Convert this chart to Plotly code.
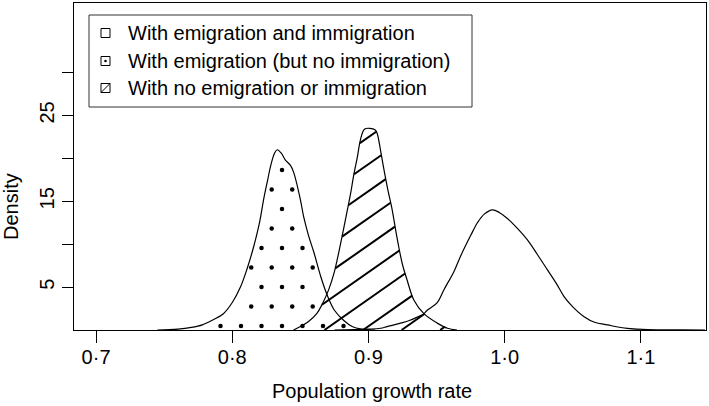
import numpy as np
import plotly.graph_objects as go

# density curves (growth rate -> density)
both_x = [0.875, 0.890, 0.900, 0.9088, 0.9137, 0.9235, 0.9300, 0.9358, 0.9407, 0.9431, 0.9505, 0.9554,
          0.9627, 0.9676, 0.975, 0.980, 0.985, 0.991, 0.996, 1.002, 1.009, 1.0167, 1.024, 1.0314,
          1.0380, 1.0436, 1.050, 1.0583, 1.066, 1.0755, 1.083, 1.090, 1.105, 1.130, 1.147]
both_y = [0.0, 0.05, 0.1, 0.2, 0.4, 0.8, 1.1, 1.5, 1.9, 2.3, 3.2, 4.7,
          6.8, 8.6, 11.0, 12.5, 13.5, 14.0, 13.7, 13.0, 11.9, 10.5, 8.8, 7.0,
          5.4, 3.9, 2.7, 1.55, 0.9, 0.6, 0.35, 0.2, 0.05, 0.02, 0.0]

emig_x = [0.745, 0.760, 0.770, 0.778, 0.786, 0.7935, 0.800, 0.806, 0.811, 0.8157, 0.820, 0.823,
          0.826, 0.828, 0.831, 0.833, 0.836, 0.839, 0.8426, 0.845, 0.850, 0.8524, 0.856, 0.860,
          0.865, 0.8696, 0.875, 0.8819, 0.888, 0.895, 0.905]
emig_y = [0.0, 0.1, 0.3, 0.6, 1.2, 1.9, 3.2, 5.0, 7.2, 9.7, 12.5, 15.2,
          17.5, 19.0, 20.6, 21.0, 20.6, 19.8, 19.2, 18.4, 15.2, 13.2, 11.0, 9.0,
          6.2, 4.1, 2.3, 1.1, 0.4, 0.1, 0.0]

none_x = [0.845, 0.850, 0.856, 0.862, 0.866, 0.8708, 0.875, 0.878, 0.881, 0.884, 0.887, 0.889,
          0.892, 0.894, 0.897, 0.901, 0.905, 0.9064, 0.909, 0.911, 0.914, 0.9174, 0.920, 0.9222,
          0.925, 0.9284, 0.9333, 0.9407, 0.9505, 0.958, 0.965]
none_y = [0.0, 0.4, 1.0, 1.9, 3.0, 4.7, 6.8, 8.9, 11.2, 13.6, 16.0, 17.9,
          20.3, 22.1, 23.4, 23.5, 23.3, 22.9, 20.8, 19.0, 16.5, 14.0, 11.6, 9.7,
          7.6, 5.8, 3.5, 1.9, 0.8, 0.2, 0.0]

labels = ['With emigration and immigration',
          'With emigration (but no immigration)',
          'With no emigration or immigration']

xticks = [0.7, 0.8, 0.9, 1.0, 1.1]
xticklabels = ['0·7', '0·8', '0·9', '1·0', '1·1']
yticks = [5, 10, 15, 20, 25, 30]
yticklabels = ['5', '', '15', '', '25', '']

W, H = 709, 406
ml, mr, mt, mb = 74, 3, 3, 76
pw, ph = W - ml - mr, H - mt - mb
xr = [0.6838, 1.1478]
yr = [0, 38.1]
FONT = 'Liberation Sans, Arial, sans-serif'


def to_x(p):
    # pixels from plot left -> data x
    return xr[0] + np.asarray(p) / pw * (xr[1] - xr[0])


def to_y(p):
    # pixels up from plot bottom -> data y
    return np.asarray(p) / ph * yr[1]


fig = go.Figure()

fig.add_trace(go.Scatter(x=both_x, y=both_y, mode='lines', line=dict(color='black', width=1.2, shape='spline'),
                         showlegend=False))
fig.add_trace(go.Scatter(x=emig_x, y=emig_y, mode='lines', line=dict(color='black', width=1.2, shape='spline'),
                         showlegend=False))

# dot shading: staggered lattice in pixel space, kept inside the curve
dx, dy = [], []
for r in range(-5, 20):
    for c in range(-5, 40):
        ppx = c * 20.5 + (r % 2) * 10.2 + 3
        ppy = r * 19.5 + 4
        gx = to_x(ppx)
        gy = to_y(ppy)
        top = np.interp(gx, emig_x, emig_y, left=0, right=0)
        if gy > to_y(2.5) and gy < top - to_y(4):
            dx.append(float(gx))
            dy.append(float(gy))
fig.add_trace(go.Scatter(x=dx, y=dy, mode='markers', marker=dict(color='black', size=4.5, line=dict(width=0)),
                         showlegend=False))

# hatching for the closed population, computed in pixel space so the angle is right
slope = 0.7
gap = 27.0
pxs = np.linspace(0, pw, 4000)
gxs = to_x(pxs)
fy = np.interp(gxs, none_x, none_y, left=0, right=0)
hx, hy = [], []
c0 = -slope * (363 - ml)
for k in range(-25, 25):
    c = c0 + k * gap
    ly = to_y(slope * pxs + c)
    inside = (ly >= 0) & (ly <= fy) & (fy > 0)
    if inside.sum() < 2:
        continue
    idx = np.where(inside)[0]
    hx += [float(gxs[idx[0]]), float(gxs[idx[-1]]), None]
    hy += [float(ly[idx[0]]), float(ly[idx[-1]]), None]
fig.add_trace(go.Scatter(x=hx, y=hy, mode='lines', line=dict(color='black', width=2), showlegend=False))

fig.add_trace(go.Scatter(x=none_x, y=none_y, mode='lines', line=dict(color='black', width=1.2, shape='spline'),
                         showlegend=False))


# legend drawn by hand in pixel positions
def xp(p):
    return (p - ml) / pw


def yp(p):
    return (H - mb - p) / ph


fig.add_shape(type='rect', xref='paper', yref='paper', x0=xp(89), x1=xp(472), y0=yp(107), y1=yp(15),
              line=dict(color='#333', width=1), fillcolor='white')
rows = [33, 61, 88]
for i, (lab, ry) in enumerate(zip(labels, rows)):
    fig.add_shape(type='rect', xref='paper', yref='paper', x0=xp(101), x1=xp(110),
                  y0=yp(ry + 4.5), y1=yp(ry - 4.5), line=dict(color='black', width=1), fillcolor='white')
    if i == 1:
        fig.add_shape(type='circle', xref='paper', yref='paper', x0=xp(104.2), x1=xp(106.8),
                      y0=yp(ry + 1.3), y1=yp(ry - 1.3), line=dict(color='black', width=0), fillcolor='black')
    if i == 2:
        fig.add_shape(type='line', xref='paper', yref='paper', x0=xp(101), x1=xp(110),
                      y0=yp(ry + 4.5), y1=yp(ry - 4.5), line=dict(color='black', width=1))
    fig.add_annotation(x=xp(126), y=yp(ry), xref='paper', yref='paper', text=lab, showarrow=False,
                       xanchor='left', yanchor='middle', font=dict(size=20, color='black', family=FONT))

fig.add_annotation(x=xp(372), y=yp(391), xref='paper', yref='paper', text='Population growth rate',
                   showarrow=False, xanchor='center', yanchor='middle',
                   font=dict(size=20, color='black', family=FONT))
fig.add_annotation(x=xp(11), y=yp(207), xref='paper', yref='paper', text='Density', textangle=-90,
                   showarrow=False, xanchor='center', yanchor='middle',
                   font=dict(size=20, color='black', family=FONT))

fig.update_xaxes(range=xr, tickvals=xticks, ticktext=xticklabels, ticks='outside', ticklen=12,
                 tickcolor='black', showline=True, linecolor='black', linewidth=1, mirror=True,
                 showgrid=False, zeroline=False, automargin=False, ticklabelstandoff=-3,
                 tickfont=dict(size=20, color='black', family=FONT))
fig.update_yaxes(range=yr, tickvals=yticks, ticktext=yticklabels, ticks='outside', ticklen=11,
                 tickcolor='black', showline=True, linecolor='black', linewidth=1, mirror=True,
                 showgrid=False, zeroline=False, tickangle=-90, automargin=False, ticklabelstandoff=0,
                 tickfont=dict(size=20, color='black', family=FONT))

fig.update_layout(width=W, height=H, margin=dict(l=ml, r=mr, t=mt, b=mb),
                  paper_bgcolor='white', plot_bgcolor='white', showlegend=False)

# the page body has a default 8px margin; drop it so the figure sits at the window corner
fig.write_html('out.html', config={'displayModeBar': False},
               post_script="document.body.style.margin='0';document.body.style.padding='0';")
